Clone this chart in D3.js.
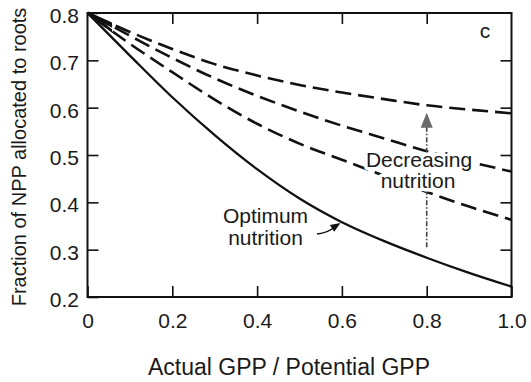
<!DOCTYPE html>
<html>
<head>
<meta charset="utf-8">
<script src="https://cdn.jsdelivr.net/npm/d3@7"></script>
<style>
  html, body { margin: 0; padding: 0; background: #fff; }
  svg { display: block; }
  text { font-family: "Liberation Sans", Arial, Helvetica, sans-serif; fill: #1a1a1a; }
</style>
</head>
<body>
<svg id="chart" width="531" height="382"></svg>
<script>
// Relative GPP (actual / potential) on the x axis
const gppRatio = [0, 0.1, 0.2, 0.3, 0.4, 0.5, 0.6, 0.7, 0.8, 0.9, 1.0];

// Fraction of NPP allocated to roots
const optimumNutrition = [0.800, 0.710, 0.622, 0.542, 0.470, 0.408, 0.358, 0.318, 0.283, 0.251, 0.222];
const nutritionLevel1  = [0.800, 0.735, 0.675, 0.617, 0.566, 0.524, 0.490, 0.456, 0.422, 0.391, 0.363];
const nutritionLevel2  = [0.800, 0.752, 0.705, 0.662, 0.625, 0.592, 0.562, 0.535, 0.508, 0.486, 0.465];
const nutritionLevel3  = [0.800, 0.760, 0.724, 0.692, 0.668, 0.648, 0.632, 0.618, 0.605, 0.596, 0.588];

const xTicks = [0, 0.2, 0.4, 0.6, 0.8, 1.0];
const xTickLabels = ["0", "0.2", "0.4", "0.6", "0.8", "1.0"];
const yTicks = [0.2, 0.3, 0.4, 0.5, 0.6, 0.7, 0.8];
const yTickLabels = ["0.2", "0.3", "0.4", "0.5", "0.6", "0.7", "0.8"];

const svg = d3.select("#chart");
const plotLeft = 87.5, plotRight = 511.5, plotTop = 13, plotBottom = 297;

const x = d3.scaleLinear().domain([0, 1]).range([plotLeft, plotRight]);
const y = d3.scaleLinear().domain([0.2, 0.8]).range([plotBottom, plotTop]);

const tickLen = 11;
const tickFont = 21;

// Frame
svg.append("rect")
  .attr("x", plotLeft).attr("y", plotTop)
  .attr("width", plotRight - plotLeft).attr("height", plotBottom - plotTop)
  .attr("fill", "none").attr("stroke", "#111").attr("stroke-width", 2);

// Bottom axis (labelled), ticks pointing inward
const xAxis = svg.append("g")
  .attr("transform", `translate(0,${plotBottom})`)
  .call(d3.axisBottom(x).tickValues(xTicks)
    .tickFormat((d, i) => xTickLabels[i])
    .tickSizeInner(-tickLen).tickSizeOuter(0).tickPadding(16));
xAxis.select(".domain").remove();
xAxis.selectAll("line").attr("stroke", "#111").attr("stroke-width", 1.6);
xAxis.selectAll("text").style("font-size", tickFont + "px").attr("fill", "#1a1a1a");

// Left axis (labelled), ticks pointing inward
const yAxis = svg.append("g")
  .attr("transform", `translate(${plotLeft},0)`)
  .call(d3.axisLeft(y).tickValues(yTicks)
    .tickFormat((d, i) => yTickLabels[i])
    .tickSizeInner(-tickLen).tickSizeOuter(0).tickPadding(8.5));
yAxis.select(".domain").remove();
yAxis.selectAll("line").attr("stroke", "#111").attr("stroke-width", 1.6);
yAxis.selectAll("text").style("font-size", tickFont + "px").attr("fill", "#1a1a1a")
  .attr("dy", "0.45em");

// Top and right axes: unlabelled inward ticks
const xAxisTop = svg.append("g")
  .attr("transform", `translate(0,${plotTop})`)
  .call(d3.axisTop(x).tickValues(xTicks.slice(1, -1)).tickFormat("")
    .tickSizeInner(-tickLen).tickSizeOuter(0));
xAxisTop.select(".domain").remove();
xAxisTop.selectAll("line").attr("stroke", "#111").attr("stroke-width", 1.6);

const yAxisRight = svg.append("g")
  .attr("transform", `translate(${plotRight},0)`)
  .call(d3.axisRight(y).tickValues(yTicks.slice(1, -1)).tickFormat("")
    .tickSizeInner(-tickLen).tickSizeOuter(0));
yAxisRight.select(".domain").remove();
yAxisRight.selectAll("line").attr("stroke", "#111").attr("stroke-width", 1.6);

// Axis titles
svg.append("text")
  .attr("x", 289).attr("y", 375)
  .attr("text-anchor", "middle")
  .style("font-size", "23px")
  .text("Actual GPP / Potential GPP");

svg.append("text")
  .attr("transform", `translate(26,${(plotTop + plotBottom) / 2 + 2}) rotate(-90)`)
  .attr("text-anchor", "middle")
  .style("font-size", "20px")
  .text("Fraction of NPP allocated to roots");

// Curves
const line = d3.line()
  .x((d, i) => x(gppRatio[i]))
  .y(d => y(d))
  .curve(d3.curveMonotoneX);

// The dashed curves start with a short solid stretch where they fan out
svg.append("clipPath").attr("id", "fan")
  .append("rect")
  .attr("x", plotLeft).attr("y", plotTop - 5)
  .attr("width", x(0.058) - plotLeft).attr("height", 60);

const plot = svg.append("g");

[nutritionLevel3, nutritionLevel2, nutritionLevel1].forEach(series => {
  plot.append("path")
    .datum(series)
    .attr("d", line)
    .attr("fill", "none")
    .attr("stroke", "#111")
    .attr("stroke-width", 2.6)
    .attr("stroke-dasharray", "16,7")
    .attr("stroke-dashoffset", -8);
  plot.append("path")
    .datum(series)
    .attr("d", line)
    .attr("fill", "none")
    .attr("stroke", "#111")
    .attr("stroke-width", 2.8)
    .attr("clip-path", "url(#fan)");
});

plot.append("path")
  .datum(optimumNutrition)
  .attr("d", line)
  .attr("fill", "none")
  .attr("stroke", "#111")
  .attr("stroke-width", 2.3);

// "Decreasing nutrition" arrow at x = 0.8
const arrowX = x(0.8);
const arrowBase = y(0.305);
const arrowTip = y(0.589);
svg.append("line")
  .attr("x1", arrowX).attr("x2", arrowX)
  .attr("y1", arrowBase).attr("y2", arrowTip + 12)
  .attr("stroke", "#444").attr("stroke-width", 1.6)
  .attr("stroke-dasharray", "5,2,1.5,2");
svg.append("path")
  .attr("d", `M${arrowX},${arrowTip} L${arrowX - 6},${arrowTip + 15} L${arrowX + 6},${arrowTip + 15} Z`)
  .attr("fill", "#6a6a6a");

// Labels with a white knockout behind the lettering
function label(txt, cx, cy) {
  svg.append("text")
    .attr("x", cx).attr("y", cy)
    .attr("text-anchor", "middle")
    .style("font-size", "21px")
    .attr("stroke", "#fff").attr("stroke-width", 7)
    .attr("paint-order", "stroke")
    .attr("stroke-linejoin", "round")
    .text(txt);
}
label("Decreasing", 419, 167);
label("nutrition", 418, 188);
label("Optimum", 265.5, 223);
label("nutrition", 265.5, 245);

// Small curved arrow pointing at the optimum curve
const tail = [317, 234], tip = [340.5, 223];
svg.append("path")
  .attr("d", `M${tail[0]},${tail[1]} Q${328},${233} ${tip[0] - 6},${tip[1] + 4}`)
  .attr("fill", "none").attr("stroke", "#111").attr("stroke-width", 1.3);
{
  const ang = Math.atan2(tip[1] - 229, tip[0] - 331);
  const L = 10, W = 4;
  const bx = tip[0] - L * Math.cos(ang), by = tip[1] - L * Math.sin(ang);
  const px = -Math.sin(ang) * W, py = Math.cos(ang) * W;
  svg.append("path")
    .attr("d", `M${tip[0]},${tip[1]} L${bx + px},${by + py} L${bx - px},${by - py} Z`)
    .attr("fill", "#111");
}

// Panel letter
svg.append("text")
  .attr("x", 485).attr("y", 38)
  .attr("text-anchor", "middle")
  .style("font-size", "21px")
  .text("c");
</script>
</body>
</html>
